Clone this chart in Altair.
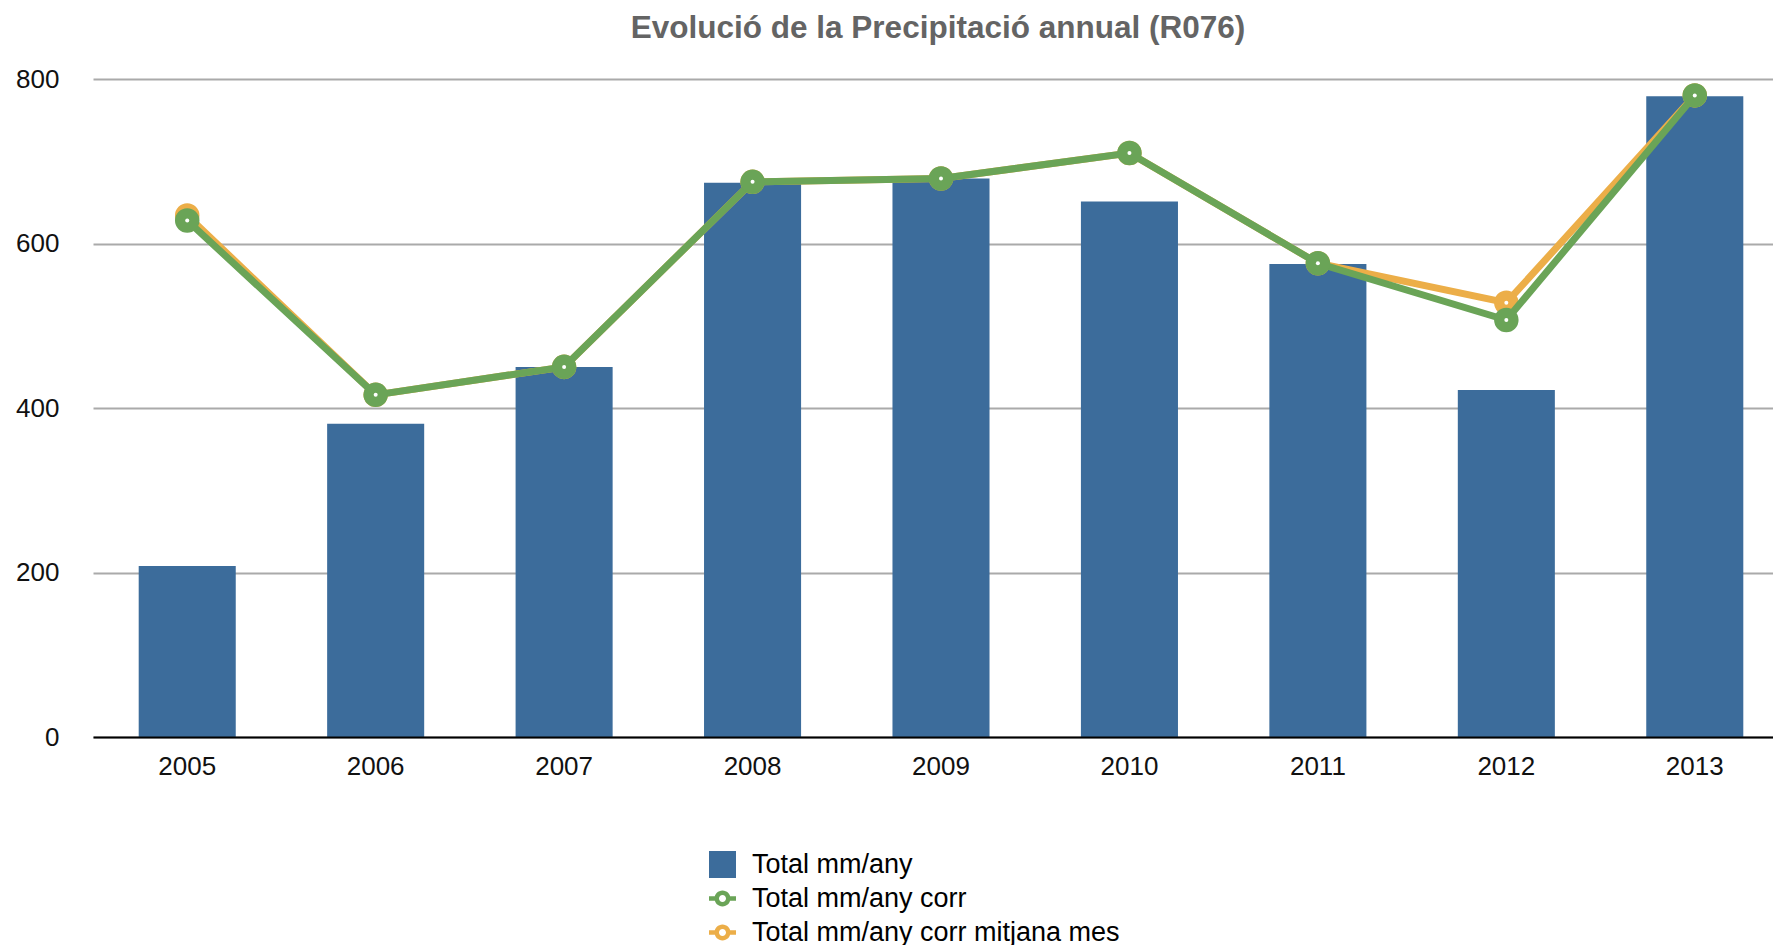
import altair as alt
import pandas as pd

# Annual precipitation at station R076 (mm/year)
years = ["2005", "2006", "2007", "2008", "2009", "2010", "2011", "2012", "2013"]
total = [208, 381, 450, 674, 679, 651, 575, 422, 779]
total_corr = [628, 416, 450, 675, 679, 710, 576, 507, 780]
total_corr_mes = [634, 416, 450, 675, 679, 710, 576, 528, 780]

series_names = ["Total mm/any", "Total mm/any corr", "Total mm/any corr mitjana mes"]
series_colors = ["#3C6C9B", "#6AA457", "#ECAE48"]

# legend glyph for the line series: a ring with short line stubs on each side
RING = (
    "M0.59,0 A0.59,0.59 0 1,1 -0.59,0 A0.59,0.59 0 1,1 0.59,0 Z "
    "M0.26,0 A0.26,0.26 0 1,0 -0.26,0 A0.26,0.26 0 1,0 0.26,0 Z "
    "M-1,-0.17 L-0.55,-0.17 L-0.55,0.17 L-1,0.17 Z "
    "M0.55,-0.17 L1,-0.17 L1,0.17 L0.55,0.17 Z"
)
series_shapes = ["square", RING, RING]

FONT = "Liberation Sans"

df = pd.DataFrame({
    "any": years,
    "total": total,
    "corr": total_corr,
    "corr_mes": total_corr_mes,
})
legend_df = pd.DataFrame({"serie": series_names})

x_enc = alt.X(
    "any:N",
    sort=years,
    scale=alt.Scale(range=[0, 1696], paddingInner=0.485, paddingOuter=0.2425),
    axis=alt.Axis(
        title=None, ticks=False, grid=False, labelAngle=0,
        domainColor="#000000", domainWidth=2, zindex=1,
        labelFontSize=26, labelColor="#111111", labelPadding=16,
    ),
)

y_scale = alt.Scale(domain=[0, 800])
y_axis = alt.Axis(
    title=None, values=[0, 200, 400, 600, 800], domain=False, ticks=False,
    grid=True, gridColor="#AAAAAA", gridWidth=2,
    labelFontSize=26, labelColor="#111111", labelPadding=34,
)

base = alt.Chart(df).encode(x=x_enc)

bars = base.mark_bar(color=series_colors[0]).encode(
    y=alt.Y("total:Q", scale=y_scale, axis=y_axis)
)


def line_layers(field, color):
    y = alt.Y(f"{field}:Q", scale=y_scale)
    line = base.mark_line(color=color, strokeWidth=7).encode(y=y)
    pts = base.mark_point(filled=True, color=color, size=600, opacity=1).encode(y=y)
    dots = base.mark_point(filled=True, color="white", size=16, opacity=1).encode(y=y)
    return [line, pts, dots]


legend_props = dict(
    title=None, orient="none", legendX=616, legendY=772, padding=0,
    labelFontSize=27, labelColor="#000000", labelOffset=16, labelLimit=0,
    symbolSize=729, symbolStrokeWidth=0, symbolOpacity=1, rowPadding=6,
)
legend_layer = alt.Chart(legend_df).mark_point(filled=True, opacity=0).encode(
    color=alt.Color(
        "serie:N", sort=series_names,
        scale=alt.Scale(domain=series_names, range=series_colors),
        legend=alt.Legend(**legend_props),
    ),
    shape=alt.Shape(
        "serie:N", sort=series_names,
        scale=alt.Scale(domain=series_names, range=series_shapes),
        legend=alt.Legend(**legend_props),
    ),
)

chart = alt.layer(
    bars,
    *line_layers("corr_mes", series_colors[2]),
    *line_layers("corr", series_colors[1]),
    legend_layer,
).properties(
    width=1680,
    height=658,
    autosize=alt.AutoSizeParams(type="none"),
    padding={"left": 93, "top": 79, "right": 0, "bottom": 208},
    title=alt.Title(
        "Evolució de la Precipitació annual (R076)",
        fontSize=31.5, fontWeight="bold", color="#646464",
        anchor="middle", offset=22, dx=5, font=FONT,
    ),
).configure(
    font=FONT,
).configure_view(
    stroke=None,
)

chart.save("out.html", embed_options={"renderer": "svg", "actions": False})
